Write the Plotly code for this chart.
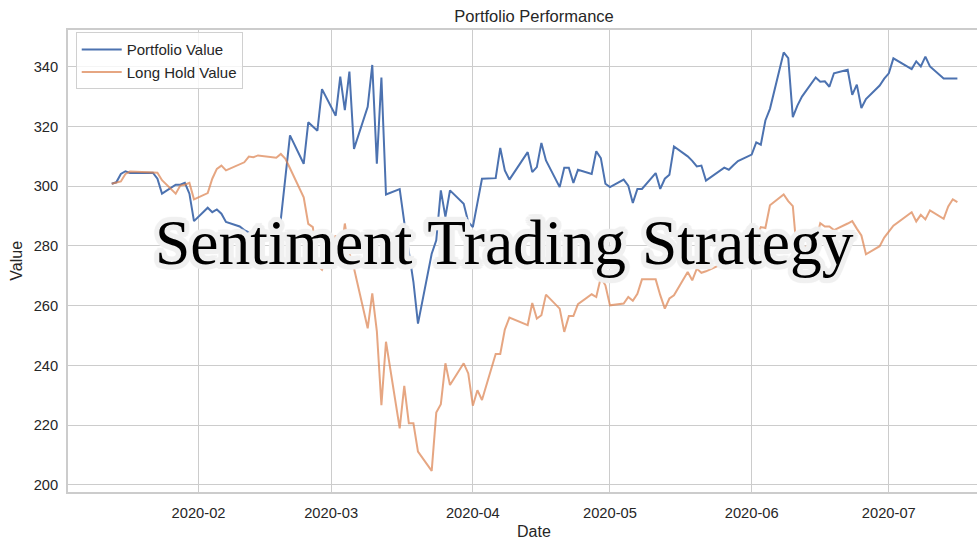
import plotly.graph_objects as go
import math

dates = [
    "2020-01-13", "2020-01-14", "2020-01-15", "2020-01-16", "2020-01-17",
    "2020-01-21", "2020-01-22", "2020-01-23", "2020-01-24",
    "2020-01-27", "2020-01-28", "2020-01-29", "2020-01-30", "2020-01-31",
    "2020-02-03", "2020-02-04", "2020-02-05", "2020-02-06", "2020-02-07",
    "2020-02-10", "2020-02-11", "2020-02-12", "2020-02-13", "2020-02-14",
    "2020-02-18", "2020-02-19", "2020-02-20", "2020-02-21",
    "2020-02-24", "2020-02-25", "2020-02-26", "2020-02-27", "2020-02-28",
    "2020-03-02", "2020-03-03", "2020-03-04", "2020-03-05", "2020-03-06",
    "2020-03-09", "2020-03-10", "2020-03-11", "2020-03-12", "2020-03-13",
    "2020-03-16", "2020-03-17", "2020-03-18", "2020-03-19", "2020-03-20",
    "2020-03-23", "2020-03-24", "2020-03-25", "2020-03-26", "2020-03-27",
    "2020-03-30", "2020-03-31", "2020-04-01", "2020-04-02", "2020-04-03",
    "2020-04-06", "2020-04-07", "2020-04-08", "2020-04-09",
    "2020-04-13", "2020-04-14", "2020-04-15", "2020-04-16", "2020-04-17",
    "2020-04-20", "2020-04-21", "2020-04-22", "2020-04-23", "2020-04-24",
    "2020-04-27", "2020-04-28", "2020-04-29", "2020-04-30", "2020-05-01",
    "2020-05-04", "2020-05-05", "2020-05-06", "2020-05-07", "2020-05-08",
    "2020-05-11", "2020-05-12", "2020-05-13", "2020-05-14", "2020-05-15",
    "2020-05-18", "2020-05-19", "2020-05-20", "2020-05-21", "2020-05-22",
    "2020-05-26", "2020-05-27", "2020-05-28", "2020-05-29",
    "2020-06-01", "2020-06-02", "2020-06-03", "2020-06-04", "2020-06-05",
    "2020-06-08", "2020-06-09", "2020-06-10", "2020-06-11", "2020-06-12",
    "2020-06-15", "2020-06-16", "2020-06-17", "2020-06-18", "2020-06-19",
    "2020-06-22", "2020-06-23", "2020-06-24", "2020-06-25", "2020-06-26",
    "2020-06-29", "2020-06-30", "2020-07-01", "2020-07-02",
    "2020-07-06", "2020-07-07", "2020-07-08", "2020-07-09", "2020-07-10",
    "2020-07-13", "2020-07-14", "2020-07-15", "2020-07-16",
]

portfolio_value = [
    300.8, 301.3, 304.1, 305.0, 304.4,
    304.4, 304.5, 302.5, 297.5,
    300.5, 300.5, 301.1, 297.5, 288.3,
    292.8, 291.3, 292.2, 290.8, 288.0,
    286.5, 285.3, 284.5, 284.0, 283.5,
    283.0, 289.0, 303.0, 317.0,
    307.5, 321.4, 320.0, 318.6, 332.5,
    323.6, 336.7, 325.5, 338.4, 312.5,
    326.6, 340.6, 307.5, 336.4, 297.2,
    299.0, 288.0, 278.0, 268.0, 254.0,
    277.4, 281.9, 298.6, 289.7, 298.6,
    294.1, 288.0, 286.3, 294.0, 302.5,
    302.7, 312.8, 305.3, 302.2,
    311.4, 304.7, 306.4, 314.5, 308.6,
    299.7, 306.2, 306.2, 301.1, 305.5,
    304.1, 311.7, 309.4, 300.8, 299.7,
    302.2, 300.2, 294.4, 299.1, 299.1,
    304.4, 299.1, 302.5, 303.8, 313.3,
    310.0, 308.5, 306.6, 306.9, 301.9,
    306.2, 305.5, 307.0, 308.4,
    310.6, 314.7, 313.9, 322.0, 325.9,
    344.8, 342.9, 323.1, 327.0, 330.0,
    336.4, 335.0, 335.1, 333.3, 337.8,
    339.0, 330.6, 334.0, 326.2, 329.2,
    333.7, 336.0, 337.8, 342.8,
    339.2, 341.8, 340.1, 343.4, 340.1,
    336.1, 336.1, 336.1, 336.1,
]

long_hold_value = [
    300.8, 301.1, 301.6, 304.1, 304.9,
    304.7, 304.7, 304.5, 302.0,
    297.5, 300.2, 300.5, 301.1, 295.6,
    297.7, 302.5, 305.8, 306.9, 305.3,
    307.3, 308.0, 309.9, 309.7, 310.3,
    309.5, 310.8, 309.2, 306.0,
    296.3, 287.4, 286.3, 273.5, 272.0,
    283.5, 275.5, 287.5, 277.5, 272.5,
    252.4, 264.1, 251.5, 226.7, 247.9,
    218.9, 233.1, 220.6, 220.6, 211.1,
    204.7, 224.2, 227.0, 240.7, 233.4,
    240.7, 237.3, 226.5, 231.7, 228.4,
    243.8, 243.8, 252.0, 256.0,
    253.5, 260.9, 255.7, 256.8, 263.7,
    259.0, 251.2, 256.5, 256.5, 260.5,
    263.8, 262.9, 269.4, 266.8, 260.1,
    260.7, 262.9, 261.6, 264.0, 268.8,
    268.8, 263.5, 259.0, 262.4, 263.5,
    271.3, 268.5, 272.4, 271.0, 271.5,
    274.3, 278.4, 277.9, 279.1,
    280.3, 282.6, 286.3, 286.0, 293.6,
    297.2, 295.0, 293.3, 276.0, 279.0,
    281.6, 287.6, 286.5, 286.5, 285.3,
    287.5, 288.3, 285.8, 283.5, 277.2,
    279.9, 282.8, 285.0, 286.8,
    291.3, 288.2, 290.4, 288.9, 291.9,
    289.1, 293.2, 295.6, 294.7,
]

x_tick_dates = ["2020-02-01", "2020-03-01", "2020-04-01", "2020-05-01", "2020-06-01", "2020-07-01"]
x_tick_labels = ["2020-02", "2020-03", "2020-04", "2020-05", "2020-06", "2020-07"]
y_ticks = [200, 220, 240, 260, 280, 300, 320, 340]

TEXT = "#262626"
GRID = "#cccccc"
SANS = "Liberation Sans, Arial, sans-serif"

fig = go.Figure()
fig.add_trace(go.Scatter(
    x=dates, y=portfolio_value, mode="lines", name="Portfolio Value",
    line=dict(color="#4C72B0", width=2),
))
fig.add_trace(go.Scatter(
    x=dates, y=long_hold_value, mode="lines", name="Long Hold Value",
    line=dict(color="rgba(221,132,82,0.72)", width=2),
))

# light outline glow around the overlay title
glow_parts = []
for r in (2.5, 5):
    for k in range(16):
        a = 2 * math.pi * k / 16
        glow_parts.append(f"{r * math.cos(a):.1f}px {r * math.sin(a):.1f}px 1px #f0f0f0")
glow = ", ".join(glow_parts)

fig.update_layout(
    width=977, height=550,
    margin=dict(l=68, r=0, t=30, b=58),
    paper_bgcolor="white", plot_bgcolor="white",
    font=dict(family=SANS, size=15, color=TEXT),
    title=dict(text="Portfolio Performance", xref="container", x=534 / 977,
               y=1 - 16 / 550, xanchor="center", yanchor="middle",
               font=dict(family=SANS, size=16.5, color=TEXT)),
    showlegend=True,
    legend=dict(x=0.0085, y=0.995, xanchor="left", yanchor="top",
                bgcolor="rgba(255,255,255,0.8)", bordercolor="#d0d0d0", borderwidth=1,
                font=dict(family=SANS, size=15, color=TEXT), tracegroupgap=0,
                itemwidth=40),
    xaxis=dict(
        type="date", range=["2020-01-03 10:30", "2020-07-20 07:00"],
        tickvals=x_tick_dates, ticktext=x_tick_labels,
        showgrid=True, gridcolor=GRID, gridwidth=1.1,
        showline=True, linecolor=GRID, linewidth=1.7, mirror=True,
        ticks="", zeroline=False, ticklabelstandoff=7,
        tickfont=dict(family=SANS, size=14.7, color=TEXT),
    ),
    yaxis=dict(
        range=[197.6, 352.3], tickvals=y_ticks,
        showgrid=True, gridcolor=GRID, gridwidth=1.1,
        showline=True, linecolor=GRID, linewidth=1.7, mirror=False,
        ticks="", zeroline=False, ticklabelstandoff=5,
        tickfont=dict(family=SANS, size=14.7, color=TEXT),
    ),
    annotations=[
        dict(text="Date", xref="paper", yref="paper", x=(534 - 68.3) / 908.7,
             y=(491.7 - 531) / 461.7, xanchor="center", yanchor="middle",
             showarrow=False, font=dict(family=SANS, size=16, color=TEXT)),
        dict(text="Value", xref="paper", yref="paper", x=(16 - 68.3) / 908.7,
             y=0.5, xanchor="center", yanchor="middle", textangle=-90,
             showarrow=False, font=dict(family=SANS, size=16, color=TEXT)),
        dict(text="Sentiment Trading Strategy", xref="paper", yref="paper",
             x=(504.5 - 68.3) / 908.7, y=(491.7 - 242) / 461.7,
             xanchor="center", yanchor="middle", showarrow=False,
             font=dict(family="Liberation Serif, serif", size=63.5, color="black",
                       shadow=glow)),
    ],
)

fig.write_html("out.html")
